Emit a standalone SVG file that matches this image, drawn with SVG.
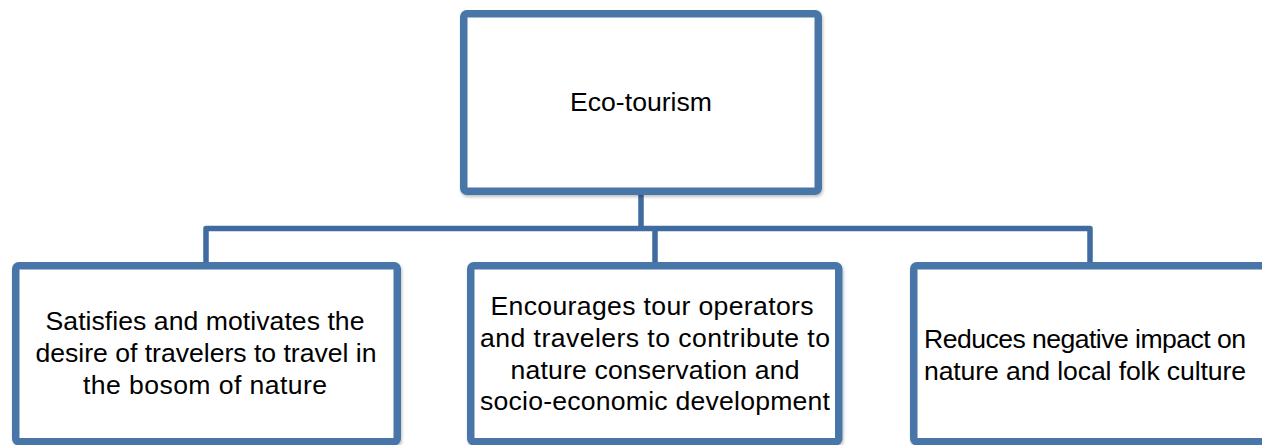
<svg xmlns="http://www.w3.org/2000/svg" width="1262" height="445" viewBox="0 0 1262 445">
  <defs>
    <filter id="sh" x="-5%" y="-5%" width="110%" height="115%">
      <feDropShadow dx="1" dy="2" stdDeviation="1.5" flood-color="#000" flood-opacity="0.25"/>
    </filter>
    <style>
      .box { fill: #ffffff; stroke: #4a76a9; stroke-width: 7.5; filter: url(#sh); }
      .conn { fill: none; stroke: #3f6ba0; stroke-width: 5.5; stroke-linejoin: round; }
      .lbl { font-family: "Liberation Sans", Arial, sans-serif; font-size: 26.6px; fill: #000; text-anchor: middle; }
    </style>
  </defs>
  <rect width="1262" height="445" fill="#ffffff"/>
  <g id="connectors">
    <path class="conn" d="M641,193 V228.5"/>
    <path class="conn" d="M206,263 V228.5 H1090 V263"/>
    <path class="conn" d="M655,228.5 V263"/>
  </g>
  <g id="node-ecotourism">
    <rect class="box" x="463.75" y="13.75" width="354.5" height="177.5" rx="3"/>
    <text class="lbl" x="641" y="111" textLength="142">Eco-tourism</text>
  </g>
  <g id="node-satisfies">
    <rect class="box" x="15.75" y="265.75" width="381.5" height="176" rx="3"/>
    <text class="lbl" x="205" y="330" textLength="319">Satisfies and motivates the</text>
    <text class="lbl" x="206" y="362" textLength="341">desire of travelers to travel in</text>
    <text class="lbl" x="205" y="394" textLength="244">the bosom of nature</text>
  </g>
  <g id="node-encourages">
    <rect class="box" x="470.75" y="265.75" width="368" height="176" rx="3"/>
    <text class="lbl" x="652" y="315" textLength="323">Encourages tour operators</text>
    <text class="lbl" x="655" y="347" textLength="350">and travelers to contribute to</text>
    <text class="lbl" x="655" y="378.5" textLength="289">nature conservation and</text>
    <text class="lbl" x="655" y="410" textLength="350">socio-economic development</text>
  </g>
  <g id="node-reduces">
    <rect class="box" x="913.75" y="265.75" width="400" height="176" rx="3"/>
    <text class="lbl" x="1085" y="348" textLength="322">Reduces negative impact on</text>
    <text class="lbl" x="1085" y="380" textLength="322">nature and local folk culture</text>
  </g>
</svg>
